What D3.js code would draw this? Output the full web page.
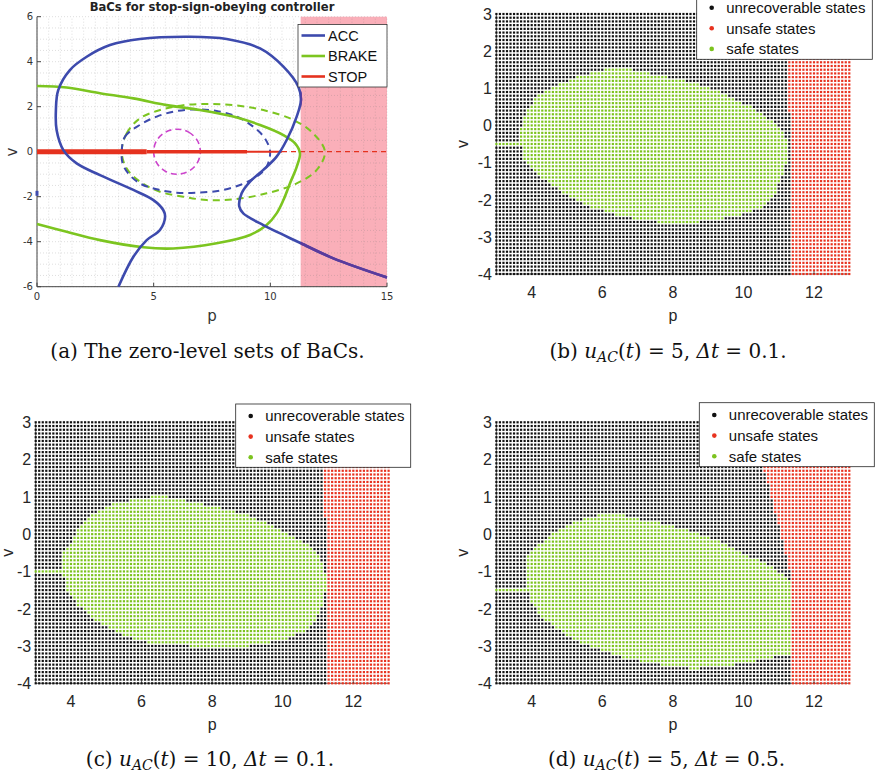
<!DOCTYPE html>
<html><head><meta charset="utf-8">
<script src="https://cdn.jsdelivr.net/npm/d3@7"></script>
<style>body{margin:0;background:#fff}svg{display:block}</style>
</head><body>
<svg id="fig" width="875" height="779"></svg>
<script>
// ---------- panel (a): zero-level sets of the BaCs ----------
const accCurve = [[3.49,-6],[4.13,-4.67],[4.7,-3.93],[5.27,-3.48],[5.49,-2.89],[5.41,-2.59],[4.99,-2.15],[4.13,-1.70],[2.7,-1.04],[1.7,-0.52],[1.13,0.07],[0.84,0.96],[0.81,1.85],[0.91,2.74],[1.41,3.63],[2.13,4.22],[3.13,4.74],[4.41,5.01],[6.56,5.11],[8.13,5.01],[9.56,4.59],[10.56,3.78],[11.2,2.89],[11.31,2.3],[11.13,1.56],[10.7,0.52],[10.27,-0.22],[9.7,-0.81],[9.13,-1.33],[8.77,-1.85],[8.67,-2.44],[8.84,-2.74],[9.7,-3.26],[10.56,-3.7],[11.31,-4.07],[12.7,-4.74],[15,-5.59]];
const accAxisMark = [[0,-1.74],[0,-1.96]];
const brakeCurve = [[0,2.92],[1.27,2.85],[2.7,2.6],[4.13,2.37],[5.56,2.07],[6.99,1.85],[8.41,1.56],[9.56,1.19],[10.56,0.74],[11.06,0.37],[11.27,-0.07],[11.13,-0.67],[10.84,-1.41],[10.56,-2.15],[10.27,-2.74],[9.84,-3.26],[9.13,-3.7],[7.7,-4.07],[5.84,-4.3],[4.56,-4.25],[2.7,-3.93],[1.27,-3.56],[0,-3.21]];
const accDashed = [[3.63,0],[3.77,0.67],[4.41,1.19],[5.13,1.56],[5.99,1.81],[6.84,1.88],[7.7,1.81],[8.56,1.56],[9.27,1.11],[9.77,0.59],[9.99,0],[9.84,-0.67],[9.41,-1.11],[8.7,-1.48],[7.84,-1.73],[6.84,-1.82],[5.99,-1.82],[5.13,-1.67],[4.41,-1.41],[3.91,-0.96],[3.67,-0.52]];
const brakeDashed = [[3.63,0],[3.84,0.81],[4.41,1.48],[5.27,1.85],[6.27,2.07],[7.27,2.12],[8.41,2.07],[9.7,1.85],[10.99,1.41],[11.84,0.81],[12.34,0],[11.99,-0.81],[11.13,-1.41],[9.84,-1.85],[8.41,-2.12],[7.27,-2.15],[6.27,-2.0],[5.27,-1.78],[4.41,-1.33],[3.84,-0.74]];
const stopDashedCircle = [[6,1],[6.5,0.87],[6.87,0.5],[7,0],[6.87,-0.5],[6.5,-0.87],[6,-1],[5.5,-0.87],[5.13,-0.5],[5,0],[5.13,0.5],[5.5,0.87]];
const stopSolidBreaks = [0, 4.7, 9.0, 10.5];
const stopDashedRange = [10.5, 15];
const unsafeFrom = 11.3;
const aXTicks = [0, 5, 10, 15];
const aYTicks = [-6, -4, -2, 0, 2, 4, 6];
const aLegend = ["ACC", "BRAKE", "STOP"];

// ---------- panels (b)-(d): sampled states ----------
const gridP = d3.range(101).map(i => 3 + i / 10);
const gridV = d3.range(71).map(i => -4 + i / 10);
const gXTicks = [4, 6, 8, 10, 12];
const gYTicks = [-4, -3, -2, -1, 0, 1, 2, 3];
const stateLabels = ["unrecoverable states", "unsafe states", "safe states"];

const safeB = [[2.95,-0.47],[3.7,-0.47],[3.67,-0.12],[3.86,0.42],[4.14,0.77],[4.61,1.04],[5.18,1.27],[5.84,1.45],[6.5,1.58],[7.07,1.45],[8.01,1.27],[8.77,1.09],[9.43,0.87],[10.19,0.51],[10.76,0.15],[11.14,-0.21],[11.28,-0.57],[11.23,-1.02],[11.04,-1.47],[10.85,-1.92],[10.47,-2.24],[9.71,-2.46],[8.77,-2.6],[8.2,-2.64],[7.54,-2.6],[6.5,-2.44],[5.65,-2.19],[4.99,-1.87],[4.23,-1.38],[3.76,-0.93],[3.7,-0.53],[2.95,-0.53]];
const safeC = [[2.95,-0.97],[3.78,-0.97],[3.78,-0.45],[3.97,-0.33],[4.25,0.2],[4.63,0.56],[5.2,0.83],[5.77,0.92],[6.52,1.05],[7.27,0.9],[8.12,0.72],[9.07,0.5],[10.01,0.09],[10.68,-0.27],[11.05,-0.63],[11.24,-1.16],[11.19,-1.7],[10.96,-2.23],[10.68,-2.59],[10.12,-2.81],[9.17,-2.99],[8.41,-3.08],[7.85,-3.08],[7.27,-2.99],[6.33,-2.95],[5.58,-2.77],[4.82,-2.41],[4.16,-1.88],[3.83,-1.43],[3.78,-1.03],[2.95,-1.03]];
const safeD = [[2.95,-1.47],[3.9,-1.47],[3.9,-0.6],[4.14,-0.33],[4.61,0.03],[5.18,0.3],[5.75,0.48],[6.31,0.57],[6.88,0.44],[7.64,0.3],[8.39,0.12],[8.96,-0.06],[9.62,-0.33],[10.38,-0.69],[10.94,-0.96],[11.28,-1.23],[11.36,-1.45],[11.36,-3.2],[10.85,-3.29],[10.19,-3.43],[9.24,-3.58],[8.58,-3.61],[7.45,-3.47],[6.5,-3.29],[5.65,-3.02],[4.9,-2.66],[4.24,-2.21],[3.95,-1.76],[3.9,-1.53],[2.95,-1.53]];
// left edge of the unsafe region: [v, p]
const unsafeEdgeB = [[-4,11.35],[0,11.35],[0.8,11.25],[3,11.15]];
const unsafeEdgeC = [[-4,11.3],[0,11.3],[0.7,11.15],[3,11.05]];
const unsafeEdgeD = [[-4,11.35],[-1.1,11.35],[3,10.25]];

const C = { acc: "#3d4aad", accDark: "#5b3a9c", brake: "#7cc520", stop: "#e5321f",
            magenta: "#cc44cc", pink: "#faafb9", unrec: "#111", unsafe: "#e8321f", safe: "#7cc31e" };

const svg = d3.select("#fig");

// ======================= panel (a) =======================
(function () {
  const x = d3.scaleLinear().domain([0, 15]).range([37, 387]);
  const y = d3.scaleLinear().domain([-6, 6]).range([286.7, 16.7]);
  const g = svg.append("g");

  g.append("rect").attr("x", x(unsafeFrom)).attr("y", y(6))
    .attr("width", x(15) - x(unsafeFrom)).attr("height", y(-6) - y(6)).attr("fill", C.pink);

  // dotted grid every half unit
  const grid = g.append("g").attr("stroke", "#777").attr("stroke-opacity", 0.35)
    .attr("stroke-width", 0.7).attr("stroke-dasharray", "1,2");
  x.ticks(30).forEach(t => grid.append("line").attr("x1", x(t)).attr("x2", x(t)).attr("y1", y(-6)).attr("y2", y(6)));
  y.ticks(24).forEach(t => grid.append("line").attr("y1", y(t)).attr("y2", y(t)).attr("x1", x(0)).attr("x2", x(15)));

  // axes (left and bottom, ticks inside)
  const axc = "#444";
  g.append("line").attr("x1", x(0)).attr("x2", x(0)).attr("y1", y(-6)).attr("y2", y(6)).attr("stroke", axc);
  g.append("line").attr("x1", x(0)).attr("x2", x(15)).attr("y1", y(-6)).attr("y2", y(-6)).attr("stroke", axc);
  aXTicks.forEach(t => {
    g.append("line").attr("x1", x(t)).attr("x2", x(t)).attr("y1", y(-6)).attr("y2", y(-6) - 4).attr("stroke", axc);
    g.append("text").attr("x", x(t)).attr("y", y(-6) + 13.5).attr("text-anchor", "middle")
      .attr("font-family", "DejaVu Sans").attr("font-size", 10).attr("fill", "#333").text(t);
  });
  aYTicks.forEach(t => {
    g.append("line").attr("x1", x(0)).attr("x2", x(0) + 4).attr("y1", y(t)).attr("y2", y(t)).attr("stroke", axc);
    g.append("text").attr("x", x(0) - 4).attr("y", y(t) + 3.6).attr("text-anchor", "end")
      .attr("font-family", "DejaVu Sans").attr("font-size", 10).attr("fill", "#333").text(t);
  });

  const line = d3.line().x(d => x(d[0])).y(d => y(d[1]));
  const smooth = d3.line().x(d => x(d[0])).y(d => y(d[1])).curve(d3.curveCatmullRom.alpha(0.5));
  const closed = d3.line().x(d => x(d[0])).y(d => y(d[1])).curve(d3.curveCatmullRomClosed.alpha(0.5));

  // dashed level sets
  g.append("path").attr("d", closed(brakeDashed)).attr("fill", "none").attr("stroke", C.brake)
    .attr("stroke-width", 2).attr("stroke-dasharray", "7,5");
  g.append("path").attr("d", closed(accDashed)).attr("fill", "none").attr("stroke", C.acc)
    .attr("stroke-width", 2).attr("stroke-dasharray", "7,5");
  g.append("path").attr("d", closed(stopDashedCircle)).attr("fill", "none").attr("stroke", C.magenta)
    .attr("stroke-width", 1.6).attr("stroke-dasharray", "6,4");

  // STOP: solid along v = 0, thinning to the right, then dashed
  const stopW = [5, 3.4, 2];
  stopSolidBreaks.slice(0, -1).forEach((p0, i) => {
    g.append("path").attr("d", line([[p0, 0], [stopSolidBreaks[i + 1], 0]]))
      .attr("stroke", C.stop).attr("stroke-width", stopW[i]);
  });
  g.append("path").attr("d", line(stopDashedRange.map(p => [p, 0]))).attr("stroke", C.stop)
    .attr("stroke-width", 1.2).attr("stroke-dasharray", "5,4");

  // solid level sets
  g.append("path").attr("d", smooth(brakeCurve)).attr("fill", "none").attr("stroke", C.brake).attr("stroke-width", 2.6);
  g.append("path").attr("d", smooth(accCurve)).attr("fill", "none").attr("stroke", C.acc).attr("stroke-width", 2.6);
  svg.append("clipPath").attr("id", "unsafeClip").append("rect")
    .attr("x", x(unsafeFrom)).attr("y", y(6)).attr("width", x(15) - x(unsafeFrom)).attr("height", y(-6) - y(6));
  g.append("path").attr("d", smooth(accCurve)).attr("fill", "none").attr("stroke", C.accDark)
    .attr("stroke-width", 2.6).attr("clip-path", "url(#unsafeClip)");
  g.append("path").attr("d", line(accAxisMark)).attr("stroke", C.acc).attr("stroke-width", 3);

  // legend
  const lg = g.append("g");
  lg.append("rect").attr("x", 298).attr("y", 24.5).attr("width", 89).attr("height", 62.5)
    .attr("fill", "#fff").attr("stroke", "#333").attr("stroke-width", 0.8);
  const lc = [C.acc, C.brake, C.stop];
  aLegend.forEach((name, i) => {
    const yy = 35.5 + i * 20.5;
    lg.append("line").attr("x1", 301.5).attr("x2", 325).attr("y1", yy).attr("y2", yy)
      .attr("stroke", lc[i]).attr("stroke-width", 2.6);
    lg.append("text").attr("x", 328).attr("y", yy + 5.3).attr("font-family", "Liberation Sans")
      .attr("font-size", 14.5).attr("fill", "#111").text(name);
  });

  g.append("text").attr("x", 212).attr("y", 10.5).attr("text-anchor", "middle")
    .attr("font-family", "DejaVu Sans").attr("font-weight", "bold").attr("font-size", 11.6)
    .attr("fill", "#222").text("BaCs for stop-sign-obeying controller");
  g.append("text").attr("x", 212).attr("y", 321).attr("text-anchor", "middle")
    .attr("font-family", "DejaVu Sans").attr("font-size", 15).attr("fill", "#333").text("p");
  g.append("text").attr("transform", "translate(16.5,152) rotate(-90)").attr("text-anchor", "middle")
    .attr("font-family", "DejaVu Sans").attr("font-size", 15).attr("fill", "#333").text("v");
})();

// ======================= panels (b)-(d) =======================
function edgeAt(edge, v) {
  for (let i = 0; i < edge.length - 1; i++) {
    const [v0, p0] = edge[i], [v1, p1] = edge[i + 1];
    if (v >= v0 - 1e-9 && v <= v1 + 1e-9) return p0 + (p1 - p0) * (v - v0) / (v1 - v0);
  }
  return edge[edge.length - 1][1];
}

function statePanel(cfg) {
  const x = d3.scaleLinear().domain([3, 13]).range(cfg.xr);
  const y = d3.scaleLinear().domain([-4, 3]).range(cfg.yr);
  const g = svg.append("g");
  const axc = "#262626";

  g.append("line").attr("x1", x(3)).attr("x2", x(3)).attr("y1", y(-4)).attr("y2", y(3)).attr("stroke", axc).attr("stroke-width", 0.7);
  g.append("line").attr("x1", x(3)).attr("x2", x(13)).attr("y1", y(-4)).attr("y2", y(-4)).attr("stroke", axc).attr("stroke-width", 0.7);

  const pts = [];
  gridV.forEach(v => gridP.forEach(p => {
    let cls = "unrec";
    if (p >= edgeAt(cfg.edge, v) - 1e-9) cls = "unsafe";
    else if (d3.polygonContains(cfg.safe, [p, v])) cls = "safe";
    pts.push({ p, v, cls });
  }));
  g.append("g").selectAll("rect").data(pts).join("rect")
    .attr("x", d => x(d.p) - 1.1).attr("y", d => y(d.v) - 1.1).attr("width", 2.2).attr("height", 2.2)
    .attr("fill", d => C[d.cls]);

  gXTicks.forEach(t => {
    g.append("line").attr("x1", x(t)).attr("x2", x(t)).attr("y1", y(-4)).attr("y2", y(-4) - 3).attr("stroke", axc).attr("stroke-width", 0.7);
    g.append("text").attr("x", x(t)).attr("y", y(-4) + 23.5).attr("text-anchor", "middle")
      .attr("font-family", "Liberation Sans").attr("font-size", 16).attr("fill", "#262626").text(t);
  });
  gYTicks.forEach(t => {
    g.append("text").attr("x", x(3) - 4.5).attr("y", y(t) + 5.8).attr("text-anchor", "end")
      .attr("font-family", "Liberation Sans").attr("font-size", 16).attr("fill", "#262626").text(t);
  });
  g.append("text").attr("x", (cfg.xr[0] + cfg.xr[1]) / 2).attr("y", y(-4) + 47)
    .attr("text-anchor", "middle").attr("font-family", "Liberation Sans").attr("font-size", 16)
    .attr("fill", "#262626").text("p");
  g.append("text").attr("transform", `translate(${Math.max(x(3) - 28.5, 13)},${(cfg.yr[0] + cfg.yr[1]) / 2}) rotate(-90)`)
    .attr("text-anchor", "middle").attr("font-family", "Liberation Sans").attr("font-size", 16)
    .attr("fill", "#262626").text("v");

  // legend
  const [lx, ly, lw, lh] = cfg.legend;
  g.append("rect").attr("x", lx).attr("y", ly).attr("width", lw).attr("height", lh)
    .attr("fill", "#fff").attr("stroke", "#262626").attr("stroke-width", 0.8);
  const lcol = [C.unrec, C.unsafe, C.safe];
  stateLabels.forEach((name, i) => {
    const yy = cfg.legendY + i * 20.6;
    g.append("circle").attr("cx", lx + 15).attr("cy", yy).attr("r", 2.3).attr("fill", lcol[i]);
    g.append("text").attr("x", lx + 29.5).attr("y", yy + 5.3).attr("font-family", "Liberation Sans")
      .attr("font-size", 15).attr("fill", "#111").text(name);
  });
}

statePanel({ xr: [496.4, 849.3], yr: [274, 14], safe: safeB, edge: unsafeEdgeB,
  legend: [696.7, -4, 175.6, 63.3], legendY: 7.7 });
statePanel({ xr: [35.7, 388.6], yr: [683.3, 422.3], safe: safeC, edge: unsafeEdgeC,
  legend: [235.7, 404, 175, 63.3], legendY: 416 });
statePanel({ xr: [496.4, 849.3], yr: [683.3, 422.3], safe: safeD, edge: unsafeEdgeD,
  legend: [699.3, 402.7, 175, 64], legendY: 415 });

// ======================= sub-captions =======================
function caption(cx, cy, width, parts) {
  const t = svg.append("text").attr("x", cx).attr("y", cy).attr("text-anchor", "middle")
    .attr("font-family", "DejaVu Serif").attr("font-size", 18).attr("fill", "#111");
  parts.forEach(pt => {
    const s = t.append("tspan").text(pt.s);
    if (pt.it) s.attr("font-style", "italic");
    if (pt.sub) s.attr("font-size", 12.5).attr("dy", 4);
    if (pt.up) s.attr("dy", -4);
  });
  // scale the type so the caption spans its column width
  const w = t.node().getComputedTextLength();
  const fs = Math.max(15, Math.min(20, 18 * width / w));
  t.attr("font-size", fs);
  t.selectAll("tspan").filter(function () { return this.getAttribute("font-size"); })
    .attr("font-size", fs * 0.7);
}
const R = s => ({ s }), I = s => ({ s, it: true });
caption(207.5, 358, 329, [R("(a) The zero-level sets of BaCs.")]);
caption(668, 358, 267, [R("(b) "), I("u"), { s: "AC", it: true, sub: true }, { s: "(", up: true }, I("t"), R(") = 5, "), I("Δt"), R(" = 0.1.")]);
caption(210, 766, 277, [R("(c) "), I("u"), { s: "AC", it: true, sub: true }, { s: "(", up: true }, I("t"), R(") = 10, "), I("Δt"), R(" = 0.1.")]);
caption(666.5, 766, 267, [R("(d) "), I("u"), { s: "AC", it: true, sub: true }, { s: "(", up: true }, I("t"), R(") = 5, "), I("Δt"), R(" = 0.5.")]);
</script>
</body></html>
